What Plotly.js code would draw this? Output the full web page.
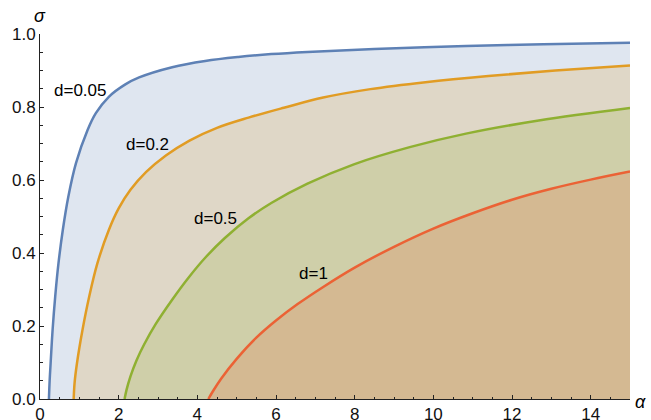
<!DOCTYPE html>
<html>
<head>
<meta charset="utf-8">
<script src="https://cdn.plot.ly/plotly-3.0.1.min.js"></script>
<style>html,body{margin:0;padding:0;background:#fff;}#plot{width:651px;height:420px;}</style>
</head>
<body>
<div id="plot"></div>
<script>
// d = 0.05
const alpha005 = [0.227, 0.245, 0.27, 0.32, 0.386, 0.47, 0.58, 0.72, 0.915, 1.21, 1.42, 1.75, 2.17, 2.52, 3.36, 4.2, 5.04, 5.88, 6.8, 8.5, 10.83, 12.8, 15];
const sigma005 = [0, 0.05, 0.098, 0.189, 0.28, 0.372, 0.463, 0.554, 0.646, 0.737, 0.783, 0.828, 0.862, 0.881, 0.909, 0.926, 0.937, 0.945, 0.951, 0.959, 0.967, 0.972, 0.976];
// d = 0.2
const alpha02 = [0.856, 0.88, 0.94, 1.08, 1.25, 1.46, 1.75, 2.0, 2.3, 2.7, 3.2, 3.8, 4.5, 5.3, 6.2, 7.2, 8.4, 9.8, 11.4, 13.1, 15];
const sigma02 = [0, 0.045, 0.098, 0.189, 0.28, 0.372, 0.463, 0.522, 0.573, 0.622, 0.667, 0.708, 0.743, 0.771, 0.798, 0.826, 0.849, 0.868, 0.885, 0.9, 0.914];
// d = 0.5
const alpha05 = [2.15, 2.2, 2.3, 2.45, 2.65, 2.94, 3.36, 3.78, 4.2, 4.7, 5.3, 5.88, 6.8, 7.98, 9.4, 10.83, 12.68, 15];
const sigma05 = [0, 0.025, 0.062, 0.105, 0.15, 0.205, 0.272, 0.333, 0.387, 0.441, 0.495, 0.537, 0.59, 0.643, 0.69, 0.727, 0.763, 0.797];
// d = 1
const alpha1 = [4.28, 4.4, 4.6, 5.0, 5.5, 6.0, 6.55, 7.2, 8.0, 9.0, 10.0, 11.0, 12.0, 13.0, 14.0, 15];
const sigma1 = [0, 0.022, 0.055, 0.11, 0.168, 0.215, 0.26, 0.307, 0.36, 0.417, 0.467, 0.509, 0.546, 0.576, 0.601, 0.623];

const curveLabels = ['d=0.05', 'd=0.2', 'd=0.5', 'd=1'];
const labelAlpha = [1.01, 2.74, 4.46, 6.95];
const labelSigma = [0.844, 0.696, 0.495, 0.344];

const xTickVals = [0, 2, 4, 6, 8, 10, 12, 14];
const yTickVals = [0.0, 0.2, 0.4, 0.6, 0.8, 1.0];

const colors = ['#5e81b5', '#e19c24', '#8fb032', '#eb6235'];
const fills = ['rgba(94,129,181,0.2)', 'rgba(225,156,36,0.2)', 'rgba(143,176,50,0.2)', 'rgba(235,98,53,0.2)'];
const series = [[alpha005, sigma005], [alpha02, sigma02], [alpha05, sigma05], [alpha1, sigma1]];

const font = 'Liberation Sans, Arial, sans-serif';
const traces = series.map((s, i) => ({
  x: s[0], y: s[1], type: 'scatter', mode: 'lines',
  line: {color: colors[i], width: 2.5, shape: 'spline', smoothing: 1},
  fill: 'tozeroy', fillcolor: fills[i], hoverinfo: 'skip'
}));

const annotations = curveLabels.map((t, i) => ({
  x: labelAlpha[i], y: labelSigma[i], xref: 'x', yref: 'y', text: t, showarrow: false,
  font: {family: font, size: 17, color: '#000'}
}));
annotations.push({x: 0, y: 1, xref: 'paper', yref: 'paper', text: '<i>σ</i>', showarrow: false,
  xanchor: 'center', yanchor: 'middle', yshift: 18, font: {family: font, size: 18, color: '#000'}});
annotations.push({x: 1, y: 0, xref: 'paper', yref: 'paper', text: '<i>α</i>', showarrow: false,
  xanchor: 'left', yanchor: 'middle', xshift: 3, yshift: -3, font: {family: font, size: 18, color: '#000'}});

const axisCommon = {
  showgrid: false, zeroline: false, showline: true, linecolor: '#222', linewidth: 1,
  ticks: 'inside', ticklen: 4, tickcolor: '#222', tickwidth: 1,
  tickfont: {family: font, size: 17, color: '#111'}
};

const layout = {
  width: 651, height: 420,
  margin: {l: 40, r: 21, t: 34, b: 21, pad: 0},
  paper_bgcolor: '#fff', plot_bgcolor: '#fff',
  showlegend: false,
  xaxis: Object.assign({}, axisCommon, {range: [0, 15], tickvals: xTickVals,
    minor: {dtick: 0.5, ticklen: 2.5, ticks: 'inside', tickcolor: '#222'}}),
  yaxis: Object.assign({}, axisCommon, {range: [0, 1], tickvals: yTickVals, tickformat: '.1f',
    minor: {dtick: 0.05, ticklen: 2.5, ticks: 'inside', tickcolor: '#222'}}),
  annotations: annotations
};

Plotly.newPlot('plot', traces, layout, {displayModeBar: false, staticPlot: true});
</script>
</body>
</html>
